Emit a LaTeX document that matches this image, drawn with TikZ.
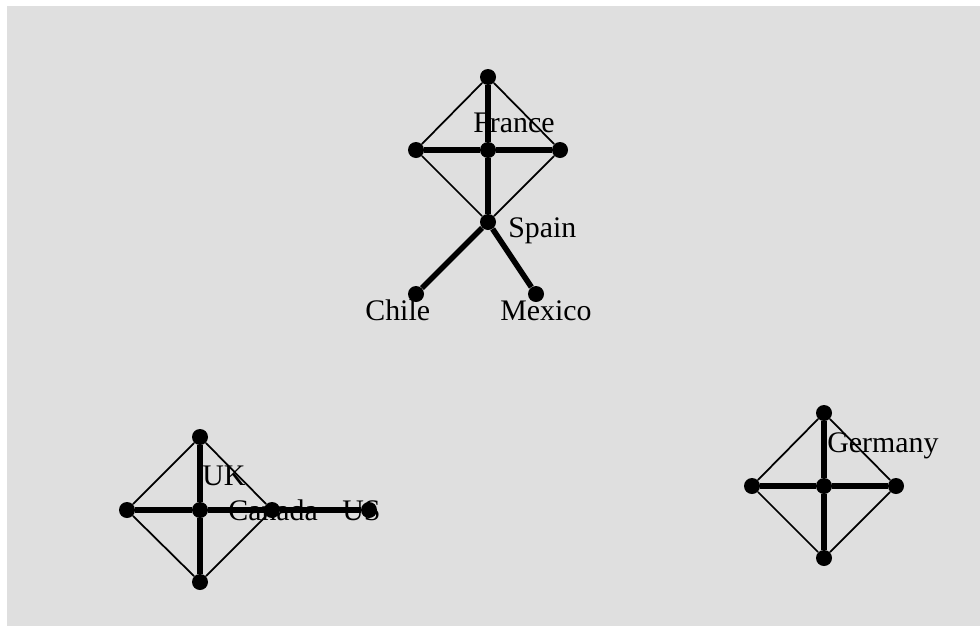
\documentclass[tikz,border=0pt]{standalone}
\usepackage{fontspec}
\setmainfont{Liberation Serif}
\usepackage{tikz}
\definecolor{bgcolor}{RGB}{223,223,223}

\begin{document}
\begin{tikzpicture}[x=0.02cm, y=-0.02cm,
  dot/.style={circle, fill=black, inner sep=0pt, minimum size=0.32cm},
  thinedge/.style={line width=1pt},
  thickedge/.style={line width=3.2pt},
  country/.style={anchor=base west, inner sep=0pt, font=\fontsize{17}{20}\selectfont}]
% Background
\useasboundingbox (0,0) rectangle (980,626);
\fill[bgcolor] (7,6) rectangle (980,626);

% France / Spain group
\node[dot] (frtop) at (488,77) {};
\node[dot] (frleft) at (416,150) {};
\node[dot] (frmid) at (488,150) {};
\node[dot] (frright) at (560,150) {};
\node[dot] (spain) at (488,222) {};
\node[dot] (chile) at (416,294) {};
\node[dot] (mexico) at (536,294) {};
\draw[thinedge] (frtop) -- (frleft) -- (spain) -- (frright) -- (frtop);
\draw[thickedge] (frtop) -- (frmid) -- (spain);
\draw[thickedge] (frleft) -- (frmid) -- (frright);
\draw[thickedge] (spain) -- (chile);
\draw[thickedge] (spain) -- (mexico);

% UK / Canada / US group
\node[dot] (uktop) at (200,437) {};
\node[dot] (ukleft) at (127,510) {};
\node[dot] (ukmid) at (200,510) {};
\node[dot] (canada) at (272,510) {};
\node[dot] (ukbottom) at (200,582) {};
\node[dot] (us) at (369,510) {};
\draw[thinedge] (uktop) -- (ukleft) -- (ukbottom) -- (canada) -- (uktop);
\draw[thickedge] (uktop) -- (ukmid) -- (ukbottom);
\draw[thickedge] (ukleft) -- (ukmid) -- (canada) -- (us);

% Germany group
\node[dot] (detop) at (824,413) {};
\node[dot] (deleft) at (752,486) {};
\node[dot] (demid) at (824,486) {};
\node[dot] (deright) at (896,486) {};
\node[dot] (debottom) at (824,558) {};
\draw[thinedge] (detop) -- (deleft) -- (debottom) -- (deright) -- (detop);
\draw[thickedge] (detop) -- (demid) -- (debottom);
\draw[thickedge] (deleft) -- (demid) -- (deright);

% Labels
\node[country] (lfrance) at (473,132) {France};
\node[country] (lspain) at (508,237) {Spain};
\node[country] (lchile) at (365,320) {Chile};
\node[country] (lmexico) at (500,320) {Mexico};
\node[country] (luk) at (202,485) {UK};
\node[country] (lcanada) at (228,520) {Canada};
\node[country] (lus) at (342,520) {US};
\node[country] (lgermany) at (827,452) {Germany};
\end{tikzpicture}
\end{document}
